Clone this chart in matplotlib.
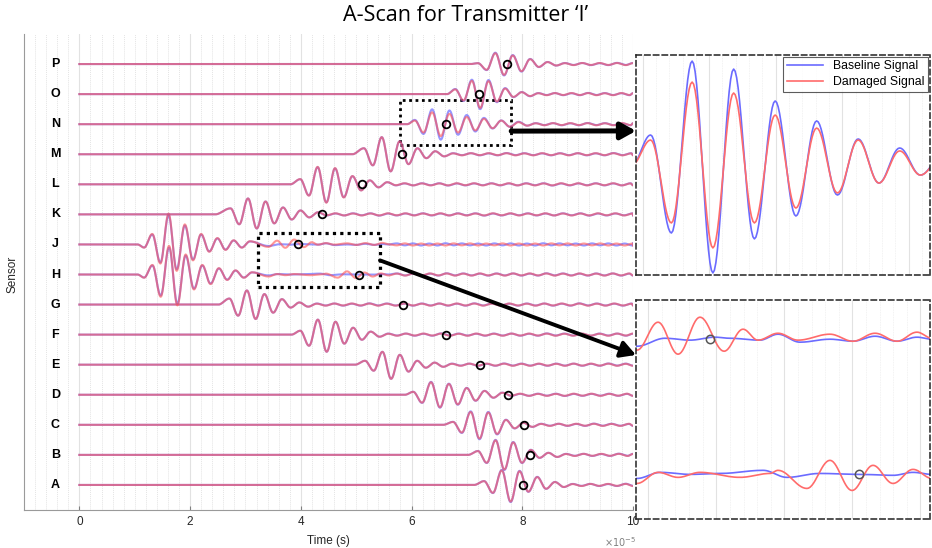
import numpy as np
import matplotlib.pyplot as plt
from matplotlib.patches import Rectangle, ConnectionPatch

plt.rcParams['font.family'] = ['Liberation Sans', 'DejaVu Sans']

# ---- data (time in units of 1e-5 s, amplitude in sensor-spacing units) ----
sensors = ["A", "B", "C", "D", "E", "F", "G", "H", "J", "K", "L", "M", "N", "O", "P"]
onset = [7.13, 7.02, 6.57, 5.88, 4.98, 3.83, 2.51, 1.05, 1.05, 2.45, 3.81, 4.93, 5.92, 6.64, 7.06]
first_peak = [7.31, 7.20, 6.75, 6.03, 5.16, 3.99, 2.71, 1.17, 1.17, 2.73, 3.99, 5.14, 6.06, 6.79, 7.20]
half_period = [0.160, 0.159, 0.159, 0.161, 0.157, 0.159, 0.158, 0.150, 0.147, 0.158, 0.157, 0.161, 0.156, 0.150, 0.157]
damage_gain = [0.97, 0.97, 0.95, 0.97, 1.0, 1.0, 1.0, 1.06, 1.06, 1.0, 1.02, 1.0, 1.0, 0.92, 0.95]
circle_t = [8.01, 8.14, 8.03, 7.74, 7.24, 6.62, 5.85, 5.05, 3.95, 4.39, 5.11, 5.83, 6.62, 7.22, 7.73]

amp_A = [0.13, -0.27, 0.50, -0.57, 0.47, -0.23, 0.27, -0.13, 0.10, -0.07]
amp_B = [0.13, -0.27, 0.50, -0.50, 0.43, -0.27, 0.17, -0.10, 0.07, -0.07]
amp_C = [0.10, -0.27, 0.45, -0.48, 0.43, -0.32, 0.17, -0.12, 0.07, -0.07]
amp_D = [0.10, -0.27, 0.43, -0.43, 0.37, -0.33, 0.23, -0.20, 0.13, -0.10, 0.07]
amp_E = [0.13, -0.20, 0.43, -0.47, 0.33, -0.23, 0.13, -0.10, 0.07, -0.07]
amp_F = [0.13, -0.37, 0.50, -0.57, 0.43, -0.30, 0.23, -0.17, 0.10, -0.07]
amp_G = [0.20, -0.37, 0.47, -0.48, 0.35, -0.27, 0.18, -0.10, 0.07, -0.07]
amp_H = [-0.10, 0.30, -0.70, 0.90, -0.97, 0.63, -0.47, 0.30, -0.30, 0.20, -0.17, 0.13, -0.10, 0.07]
amp_J = [-0.10, 0.33, -0.60, 0.97, -0.83, 0.63, -0.50, 0.33, -0.23, 0.20, -0.17, 0.13, -0.10, 0.10]
amp_K = [0.20, -0.33, 0.53, -0.47, 0.43, -0.30, 0.23, -0.17, 0.13, -0.10, 0.07]
amp_L = [0.17, -0.37, 0.57, -0.60, 0.53, -0.43, 0.27, -0.20, 0.13, -0.10, 0.07]
amp_M = [0.20, -0.37, 0.57, -0.57, 0.43, -0.33, 0.20, -0.13, 0.10, -0.07]
amp_N = [0.143, -0.324, 0.495, -0.514, 0.457, -0.352, 0.305, -0.243, 0.210, -0.143, 0.124, -0.086, 0.081, -0.048]
amp_N_damaged = [0.119, -0.276, 0.395, -0.395, 0.343, -0.276, 0.238, -0.205, 0.176, -0.133, 0.119, -0.086, 0.067, -0.048]
amp_O = [0.17, -0.23, 0.48, -0.50, 0.47, -0.27, 0.20, -0.10, 0.07, -0.07]
amp_P = [0.03, -0.20, 0.38, -0.38, 0.30, -0.25, 0.17, -0.10, 0.07, -0.05]
amps = [amp_A, amp_B, amp_C, amp_D, amp_E, amp_F, amp_G, amp_H, amp_J,
        amp_K, amp_L, amp_M, amp_N, amp_O, amp_P]

# late arrivals on J and H
J_base_t = [3.417, 3.623, 3.807, 3.990, 4.100, 4.320, 4.453, 4.615, 4.835, 5.004, 5.166, 5.328, 5.474, 5.585]
J_base_a = [-0.052, 0.007, -0.007, 0.015, 0.007, -0.007, 0.037, -0.022, 0.0, -0.015, 0.022, -0.015, 0.015, 0.0]
J_dmg_t = [3.417, 3.572, 3.719, 3.880, 4.057, 4.196, 4.306, 4.453, 4.600, 4.835, 5.004, 5.166, 5.328, 5.474, 5.585]
J_dmg_a = [-0.081, 0.126, -0.111, 0.163, -0.089, 0.074, -0.007, 0.044, -0.007, 0.037, -0.015, 0.044, -0.015, 0.052, 0.007]
H_base_t = [3.417, 3.590, 3.810, 4.030, 4.343, 4.520, 4.760, 5.060, 5.300, 5.445, 5.585]
H_base_a = [-0.030, 0.015, 0.0, 0.007, 0.030, -0.022, 0.007, 0.0, -0.007, 0.015, 0.0]
H_dmg_t = [3.417, 3.572, 3.719, 3.880, 4.174, 4.394, 4.453, 4.666, 4.835, 4.997, 5.151, 5.298, 5.445, 5.585]
H_dmg_a = [-0.067, 0.015, -0.022, 0.015, -0.022, 0.007, 0.030, -0.104, 0.104, -0.119, 0.067, -0.067, 0.037, -0.030]

ripple_base = [0.035, 0.03, 0.035, 0.035, 0.03, 0.035, 0.04, 0.03, 0.035, 0.03, 0.03, 0.035]
ripple_dmg = [0.03, 0.035, 0.035, 0.03, 0.035, 0.03, 0.035, 0.035, 0.03, 0.035, 0.035, 0.03]

BLUE = "#5050ff"
RED = "#ff5050"


def add_tail(kt, ka, half, ripple):
    kt, ka = list(kt), list(ka)
    sign = -1.0 if ka[-1] > 0 else 1.0
    k = 0
    while kt[-1] < 10.0:
        kt.append(kt[-1] + half)
        ka.append(sign * ripple[k % len(ripple)])
        sign = -sign
        k += 1
    kt[-1] = 10.0
    return kt, ka


def smooth(kt, ka, n=14):
    ts, ys = [], []
    for k in range(len(kt) - 1):
        u = np.linspace(0, 1, n, endpoint=False)
        w = (1 - np.cos(np.pi * u)) / 2
        ts.append(kt[k] + (kt[k + 1] - kt[k]) * u)
        ys.append(ka[k] + (ka[k + 1] - ka[k]) * w)
    ts.append([kt[-1]])
    ys.append([ka[-1]])
    return np.concatenate(ts), np.concatenate(ys)


traces = {}
for i, s in enumerate(sensors):
    h = half_period[i]
    pk_t = [first_peak[i] + k * h for k in range(len(amps[i]))]
    base_a = amps[i]
    dmg_a = amp_N_damaged if s == "N" else [a * damage_gain[i] for a in amps[i]]
    bt, ba = [0.0, onset[i]] + pk_t, [0.0, 0.0] + list(base_a)
    dt, da = [0.0, onset[i]] + pk_t, [0.0, 0.0] + list(dmg_a)
    if s == "J":
        bt, ba = bt + J_base_t, ba + J_base_a
        dt, da = dt + J_dmg_t, da + J_dmg_a
    if s == "H":
        bt, ba = bt + H_base_t, ba + H_base_a
        dt, da = dt + H_dmg_t, da + H_dmg_a
    bt, ba = add_tail(bt, ba, h, ripple_base)
    dt, da = add_tail(dt, da, h, ripple_dmg)
    traces[s] = (smooth(bt, ba), smooth(dt, da))

# ---- figure ----
fig = plt.figure(figsize=(9.32, 5.48), dpi=100)
ax = fig.add_axes([24 / 932, 1 - 510 / 548, 609 / 932, 476 / 548])

for i, s in enumerate(sensors):
    (tb, yb), (td, yd) = traces[s]
    off = i + 1
    ax.plot(tb, yb + off, color=BLUE, lw=1.5, alpha=0.6)
    ax.plot(td, yd + off, color=RED, lw=1.5, alpha=0.6)
    ax.plot(circle_t[i], off, "o", ms=5.5, mfc="none", mec="k", mew=1.3)
    ax.text(-0.433, off, s, ha="center", va="center", fontsize=9, fontweight="bold")

ax.set_xlim(-1, 10)
ax.set_ylim(0.167, 16.0)
ax.set_xticks([0, 2, 4, 6, 8, 10])
ax.set_xticks(np.arange(-1, 10.001, 0.2), minor=True)
ax.set_yticks([])
ax.grid(axis="x", which="major", color="#e2e2e2", lw=0.8)
ax.grid(axis="x", which="minor", color="#e4e4e4", lw=0.7, ls=(0, (1, 1)))
ax.set_axisbelow(True)
ax.tick_params(axis="x", which="major", direction="in", length=3, color="#808080",
               labelsize=8.5, labelcolor="#262626", pad=4)
ax.tick_params(axis="x", which="minor", length=0)
for side in ["top", "right"]:
    ax.spines[side].set_visible(False)
for side in ["left", "bottom"]:
    ax.spines[side].set_color("#9a9a9a")
ax.set_xlabel("Time (s)", fontsize=8.5, color="#262626")
ax.xaxis.set_label_coords(0.5, -0.052)
ax.set_ylabel("Sensor", fontsize=8.5, color="#262626")
ax.yaxis.set_label_coords(-0.009, 0.494)
ax.text(0.979, -0.053, r"$\times10^{-5}$", transform=ax.transAxes, ha="center", va="top",
        fontsize=7, color="#808080")

# zoom boxes on the main axes
ax.add_patch(Rectangle((5.79, 12.3), 2.01, 1.5, fill=False, ec="k", lw=2, ls=(0, (1, 1.3))))
ax.add_patch(Rectangle((3.23, 7.57), 2.20, 1.80, fill=False, ec="k", lw=2.3, ls=(0, (1, 1.3))))


def style_inset(a, x0, x1):
    a.set_xlim(x0, x1)
    a.set_xticks(np.arange(np.ceil(x0 * 2) / 2, x1, 0.5))
    a.set_xticks(np.arange(np.ceil(x0 * 10) / 10, x1, 0.1), minor=True)
    a.set_yticks([])
    a.tick_params(which="both", length=0, labelbottom=False)
    a.grid(axis="x", which="major", color="#e2e2e2", lw=0.8)
    a.grid(axis="x", which="minor", color="#eeeeee", lw=0.6, ls=(0, (1, 1)))
    a.set_axisbelow(True)
    for sp in a.spines.values():
        sp.set_linestyle((0, (3.5, 2.2)))
        sp.set_linewidth(1.1)
        sp.set_color("#222222")


# upper zoom: sensor N
ax_top = fig.add_axes([636 / 932, 1 - 275 / 548, 294 / 932, 220 / 548])
(tb, yb), (td, yd) = traces["N"]
ax_top.plot(tb, yb, color="#6b6bff", lw=1.2, label="Baseline Signal")
ax_top.plot(td, yd, color="#ff6b6b", lw=1.2, label="Damaged Signal")
style_inset(ax_top, 5.95, 8.16)
ax_top.set_ylim(-0.524, 0.524)
leg = ax_top.legend(loc="upper right", fontsize=8.8, frameon=True, fancybox=False,
                    borderaxespad=0.15, handlelength=3.0, borderpad=0.3, labelspacing=0.3)
leg.get_frame().set_edgecolor("#333333")
leg.get_frame().set_linewidth(0.8)

# lower zoom: sensors J and H
ax_bot = fig.add_axes([636 / 932, 1 - 519 / 548, 294 / 932, 219 / 548])
for s, off in [("J", 9), ("H", 8)]:
    (tb, yb), (td, yd) = traces[s]
    ax_bot.plot(tb, yb + off, color="#6b6bff", lw=1.2)
    ax_bot.plot(td, yd + off, color="#ff6b6b", lw=1.2)
    ct = circle_t[sensors.index(s)]
    ax_bot.plot(ct, off, "o", ms=6, mfc="none", mec="#555555", mew=1.1)
style_inset(ax_bot, 3.41, 5.57)
ax_bot.set_ylim(7.67, 9.29)

# arrows from the boxes to the zoom panels
for xyA, target, yB, lw in [((7.80, 12.77), ax_top, 0.655, 3.6), ((5.43, 8.47), ax_bot, 0.749, 2.8)]:
    con = ConnectionPatch(xyA=xyA, coordsA=ax.transData, xyB=(0, yB), coordsB=target.transAxes,
                          arrowstyle="-|>,head_length=0.45,head_width=0.25", mutation_scale=20,
                          lw=lw, color="k", shrinkA=0, shrinkB=0)
    fig.add_artist(con)

fig.text(0.499, 0.9726, "A-Scan for Transmitter \u2018I\u2019", ha="center", va="center",
         fontsize=15.5, family="Open Sans")

fig.savefig("out.png", dpi=100)
